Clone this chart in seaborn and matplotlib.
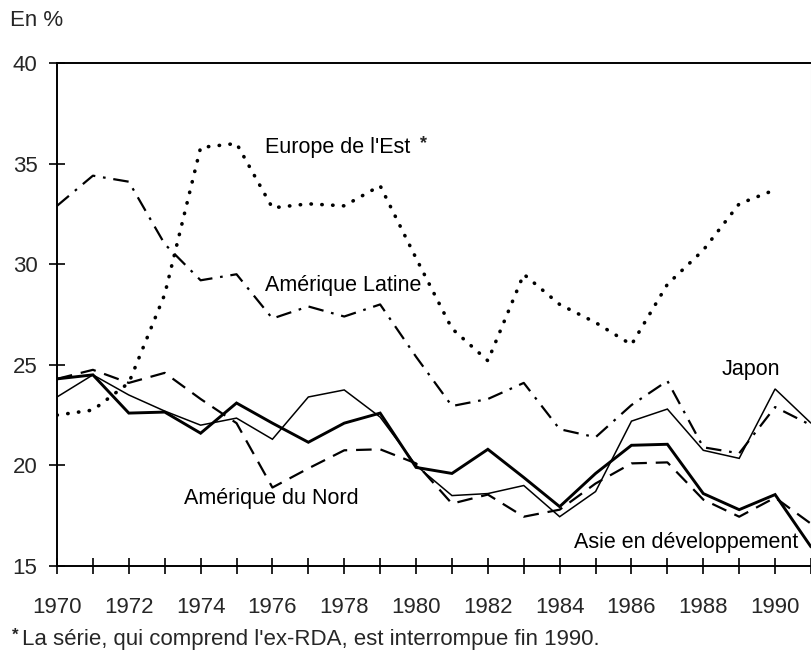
import matplotlib
matplotlib.use("Agg")
import matplotlib.pyplot as plt
import seaborn as sns
import pandas as pd
import numpy as np

years = list(range(1970, 1992))

europe_est = [22.5, 22.75, 24.1, 28.5, 35.8, 36.0, 32.8, 33.0, 32.9, 33.9, 30.3,
              26.8, 25.2, 29.5, 28.0, 27.1, 26.0, 29.0, 30.7, 33.0, 33.7, None]
amerique_latine = [32.9, 34.4, 34.1, 31.0, 29.2, 29.5, 27.3, 27.9, 27.4, 28.0, 25.4,
                   22.95, 23.3, 24.1, 21.8, 21.4, 23.0, 24.2, 20.9, 20.6, 22.9, 22.0]
japon = [23.4, 24.5, 23.5, 22.7, 22.0, 22.35, 21.3, 23.4, 23.75, 22.4, 20.0,
         18.5, 18.6, 19.0, 17.45, 18.7, 22.2, 22.8, 20.75, 20.35, 23.8, 22.1]
amerique_nord = [24.3, 24.75, 24.1, 24.6, 23.3, 22.1, 18.9, 19.85, 20.75, 20.8, 20.1,
                 18.1, 18.55, 17.45, 17.8, 19.1, 20.1, 20.15, 18.3, 17.45, 18.4, 17.1]
asie_dev = [24.3, 24.5, 22.6, 22.65, 21.6, 23.1, 22.1, 21.15, 22.1, 22.6, 19.9,
            19.6, 20.8, 19.4, 17.95, 19.6, 21.0, 21.05, 18.6, 17.8, 18.55, 15.95]

series_names = ["Europe de l'Est", "Amérique Latine", "Japon",
                "Amérique du Nord", "Asie en développement"]
series_values = [europe_est, amerique_latine, japon, amerique_nord, asie_dev]

y_ticks = [15, 20, 25, 30, 35, 40]
x_tick_labels = list(range(1970, 1991, 2))

rows = []
for name, vals in zip(series_names, series_values):
    for yr, v in zip(years, vals):
        if v is not None:
            rows.append({"Année": yr, "Valeur": v, "Série": name})
df = pd.DataFrame(rows)

sns.set_theme(style="white")
plt.rcParams['font.family'] = ['Liberation Sans', 'DejaVu Sans']

fig = plt.figure(figsize=(8.11, 6.53), dpi=100)
ax = fig.add_axes([57/811, 1 - 566/653, 1 - 57/811, (566 - 63)/653])

styles = {
    "Europe de l'Est": dict(lw=2.6, ls=(0, (0.1, 2.9)), cap="round"),
    "Amérique Latine": dict(lw=1.6, ls=(0, (7, 3.5, 1.2, 3.5)), cap="butt"),
    "Japon": dict(lw=1.1, ls="-", cap="butt"),
    "Amérique du Nord": dict(lw=1.6, ls=(0, (7, 4)), cap="butt"),
    "Asie en développement": dict(lw=2.1, ls="-", cap="butt"),
}

for name in series_names:
    st = styles[name]
    sub = df[df["Série"] == name]
    sns.lineplot(data=sub, x="Année", y="Valeur", ax=ax, color="black",
                 linewidth=st["lw"], linestyle=st["ls"], estimator=None,
                 legend=False, solid_joinstyle="miter",
                 dash_capstyle=st["cap"], clip_on=True)

ax.set_xlim(1970, 1991)
ax.set_ylim(15, 40)
ax.set_xlabel("")
ax.set_ylabel("")
ax.set_xticks(x_tick_labels)
ax.set_xticklabels([str(y) for y in x_tick_labels])
ax.set_xticks([y for y in years if y % 2 == 1], minor=True)
ax.set_yticks(y_ticks)
ax.set_yticklabels([str(v) for v in y_ticks])

for side in ["left", "top", "bottom"]:
    ax.spines[side].set_visible(True)
    ax.spines[side].set_color("black")
    ax.spines[side].set_linewidth(1.4)
ax.spines["right"].set_visible(True)
ax.spines["right"].set_color("#cccccc")
ax.spines["right"].set_linewidth(0.8)

ax.tick_params(axis="x", which="both", direction="inout", length=12, width=1.2,
               color="black", bottom=True, top=False, labelsize=16, pad=16)
ax.tick_params(axis="y", which="both", direction="inout", length=12, width=1.2,
               color="black", left=True, right=False, labelsize=16, pad=8)
ax.grid(False)

lab = dict(fontsize=15.5, color="black")
ax.text(1975.8, 35.8, "Europe de l'Est", ha="left", va="center", **lab)
ax.text(1980.1, 36.0, "*", ha="left", va="center", fontsize=13, fontweight="bold")
ax.text(1975.8, 28.95, "Amérique Latine", ha="left", va="center", **lab)
ax.text(1988.5, 24.75, "Japon", ha="left", va="center", **lab)
ax.text(1973.55, 18.35, "Amérique du Nord", ha="left", va="center", **lab)
ax.text(1984.4, 16.15, "Asie en développement", ha="left", va="center", **lab)

fig.text(10/811, 1 - 20/653, "En %", ha="left", va="center", fontsize=16)
fig.text(12/811, 1 - 635/653, "*", ha="left", va="center", fontsize=12, fontweight="bold")
fig.text(22/811, 1 - 640/653, "La série, qui comprend l'ex-RDA, est interrompue fin 1990.",
         ha="left", va="center", fontsize=16)

fig.savefig("out.png", dpi=100)
